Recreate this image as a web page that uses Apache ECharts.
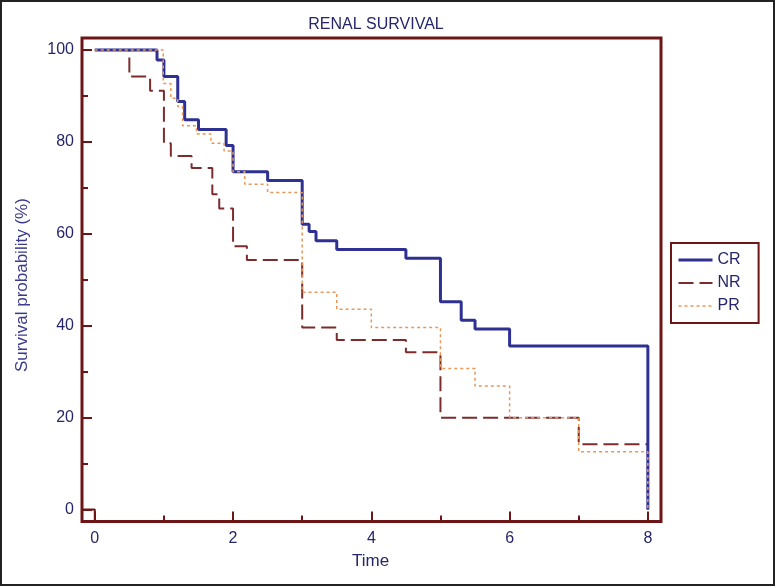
<!DOCTYPE html>
<html>
<head>
<meta charset="utf-8">
<script src="https://cdn.jsdelivr.net/npm/echarts@6/dist/echarts.min.js"></script>
<style>
html,body{margin:0;padding:0;background:#fff;}
#chart{width:775px;height:586px;}
</style>
</head>
<body>
<div id="chart"></div>
<script>
// ---- data (Kaplan-Meier steps: [time, survival % after the step]) ----
const seriesNames = ['CR', 'NR', 'PR'];
const crTimes  = [0, 0.9, 1.0, 1.2, 1.3, 1.5, 1.9, 2.0, 2.5, 3.0, 3.1, 3.2, 3.5, 4.5, 5.0, 5.3, 5.5, 6.0, 8.0];
const crValues = [100, 97.8, 94.2, 88.8, 84.8, 82.7, 79.2, 73.5, 71.6, 62.1, 60.5, 58.5, 56.6, 54.7, 45.2, 41.2, 39.3, 35.6, 0];
const nrTimes  = [0, 0.5, 0.8, 1.0, 1.1, 1.4, 1.7, 1.8, 2.0, 2.2, 3.0, 3.5, 4.5, 5.0, 7.0, 8.0];
const nrValues = [100, 94.2, 91.1, 79.7, 76.9, 74.3, 68.6, 65.5, 57.3, 54.3, 39.6, 36.9, 34.2, 20.0, 14.2, 0];
const prTimes  = [0, 0.99, 1.1, 1.2, 1.27, 1.47, 1.68, 1.87, 2.0, 2.17, 2.5, 3.0, 3.5, 4.0, 5.0, 5.5, 6.0, 7.0, 8.0];
const prValues = [100, 92.7, 89.5, 87.7, 83.5, 81.7, 79.7, 78.0, 73.5, 70.8, 69.0, 47.3, 43.6, 39.6, 30.7, 26.9, 20.0, 12.6, 0];

const xMajorTicks = [0, 2, 4, 6, 8];
const xMinorTicks = [1, 3, 5, 7];
const yMajorTicks = [0, 20, 40, 60, 80, 100];
const yMinorTicks = [10, 30, 50, 70, 90];

const XMIN = -0.185, XMAX = 8.19;
const YMIN = -2.6, YMAX = 102.6;

const titleText = 'RENAL SURVIVAL';
const xName = 'Time';
const yName = 'Survival probability (%)';

// ---- styling ----
const FRAME = '#6e1616';
const NAVY = '#26266a';
const FONT = 'Arial, "Liberation Sans", sans-serif';
const COLORS = {CR: '#2e3192', NR: '#7c2c2c', PR: '#e8975a'};
const LINE = {
  CR: {color: COLORS.CR, width: 3, type: 'solid'},
  NR: {color: COLORS.NR, width: 2, type: [15, 6]},
  PR: {color: COLORS.PR, width: 1.5, type: [3, 3]}
};

function zip(t, v) { return t.map((x, i) => [x, v[i]]); }
const cornerBox = [[XMIN, 0], [0, 0], [0, YMIN]];

const chart = echarts.init(document.getElementById('chart'), null, {renderer: 'canvas'});

function xAxisCfg(ticks, len, labels) {
  return {
    type: 'value', min: XMIN, max: XMAX, position: 'bottom',
    axisLine: {show: false, onZero: false}, splitLine: {show: false},
    axisTick: {show: true, inside: true, length: len, customValues: ticks, lineStyle: {color: FRAME, width: 2}},
    axisLabel: labels ? {show: true, customValues: ticks, color: NAVY, fontSize: 16, fontFamily: FONT, margin: 9} : {show: false}
  };
}
function yAxisCfg(ticks, len, labels) {
  return {
    type: 'value', min: YMIN, max: YMAX, position: 'left',
    axisLine: {show: false, onZero: false}, splitLine: {show: false},
    axisTick: {show: true, inside: true, length: len, customValues: ticks, lineStyle: {color: FRAME, width: 2}},
    axisLabel: labels ? {show: true, customValues: ticks, color: NAVY, fontSize: 16, fontFamily: FONT, margin: 8} : {show: false}
  };
}

const option = {
  backgroundColor: '#fff',
  animation: false,
  title: {
    text: titleText, left: 371, top: 12, textAlign: 'center',
    textStyle: {color: NAVY, fontSize: 16, fontWeight: 'normal', fontFamily: FONT}
  },
  grid: {
    left: 82, top: 38, right: 114, bottom: 64.5,
    show: true, borderColor: FRAME, borderWidth: 3, backgroundColor: '#fff'
  },
  legend: {
    orient: 'vertical', left: 671, top: 243,
    data: seriesNames.map(n => ({name: n, lineStyle: LINE[n]})),
    borderColor: FRAME, borderWidth: 2, borderRadius: 0,
    padding: [9, 18, 9, 6], itemGap: 7, itemWidth: 34, itemHeight: 14,
    itemStyle: {opacity: 0},
    textStyle: {color: NAVY, fontSize: 16, fontFamily: FONT},
    backgroundColor: '#fff'
  },
  xAxis: [xAxisCfg(xMajorTicks, 10, true), xAxisCfg(xMinorTicks, 6, false)],
  yAxis: [yAxisCfg(yMajorTicks, 10, true), yAxisCfg(yMinorTicks, 6, false)],
  graphic: [
    {type: 'text', left: 371 - 19, top: 553, style: {text: xName, fill: NAVY, font: '17px ' + FONT}},
    {type: 'text', x: 14, y: 372, rotation: Math.PI / 2, style: {text: yName, fill: '#3a3a8c', font: '17px ' + FONT}},
    {type: 'rect', shape: {x: 1, y: 1, width: 773, height: 584}, style: {fill: 'none', stroke: '#222', lineWidth: 2}, silent: true, z: 100}
  ],
  series: [
    {
      name: 'corner', type: 'line', data: cornerBox, symbol: 'none', silent: true,
      lineStyle: {color: FRAME, width: 2}, z: 1
    },
    {
      name: 'NR', type: 'line', step: 'end', data: zip(nrTimes, nrValues), symbol: 'none',
      color: COLORS.NR, lineStyle: LINE.NR, z: 2
    },
    {
      name: 'CR', type: 'line', step: 'end', data: zip(crTimes, crValues), symbol: 'none',
      color: COLORS.CR, lineStyle: LINE.CR, z: 3
    },
    {
      name: 'PR', type: 'line', step: 'end', data: zip(prTimes, prValues), symbol: 'none',
      color: COLORS.PR, lineStyle: LINE.PR, z: 4
    }
  ]
};
chart.setOption(option);
</script>
</body>
</html>
